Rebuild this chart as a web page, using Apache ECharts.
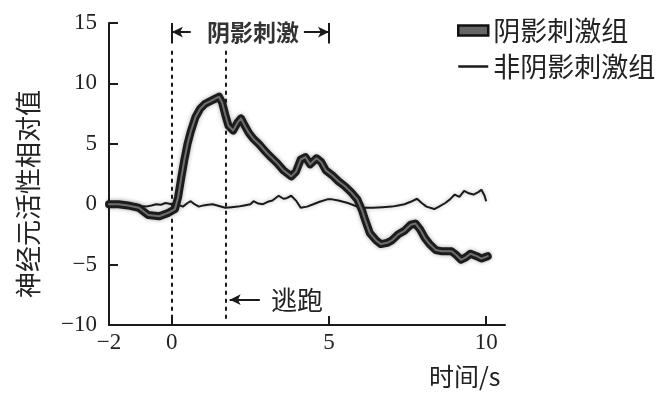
<!DOCTYPE html>
<html>
<head>
<meta charset="utf-8">
<script src="https://cdn.jsdelivr.net/npm/echarts@6/dist/echarts.min.js"></script>
<style>html,body{margin:0;padding:0;background:#fff}#c{width:671px;height:394px}</style>
</head>
<body>
<div id="c"></div>
<script>
// ---- data ----
const shadowName = '阴影刺激组';
const noShadowName = '非阴影刺激组';
const shadowTime = [-2, -1.7, -1.4, -1.05, -0.75, -0.4, -0.1, 0.1, 0.2, 0.3, 0.4, 0.5, 0.6, 0.75, 0.9, 1.05, 1.2, 1.35, 1.5, 1.6, 1.7, 1.8, 1.95, 2.1, 2.2, 2.3, 2.45, 2.6, 2.8, 3.0, 3.15, 3.35, 3.55, 3.8, 3.95, 4.1, 4.25, 4.4, 4.6, 4.75, 4.9, 5.1, 5.3, 5.5, 5.7, 5.9, 6.05, 6.15, 6.3, 6.5, 6.65, 6.85, 7.0, 7.2, 7.4, 7.6, 7.75, 7.9, 8.05, 8.2, 8.4, 8.6, 8.9, 9.05, 9.2, 9.35, 9.5, 9.7, 9.85, 10.05];
const shadowValue = [0, 0.0, -0.1, -0.3, -0.9, -1.0, -0.7, -0.4, 0.6, 2.2, 3.7, 5.0, 6.0, 7.2, 7.9, 8.3, 8.5, 8.7, 8.9, 8.4, 7.4, 6.5, 6.1, 6.8, 7.1, 6.6, 5.9, 5.4, 4.9, 4.3, 3.9, 3.4, 2.8, 2.3, 2.7, 3.7, 3.9, 3.3, 3.8, 3.5, 2.8, 2.4, 1.9, 1.5, 1.0, 0.4, -0.5, -1.3, -2.4, -3.0, -3.3, -3.2, -3.0, -2.5, -2.2, -1.7, -1.6, -2.1, -2.8, -3.3, -3.8, -3.9, -3.9, -4.2, -4.6, -4.4, -4.1, -4.3, -4.5, -4.3];
const noShadowTime = [-2, -1.8, -1.6, -1.45, -1.3, -1.15, -1.0, -0.83, -0.65, -0.5, -0.35, -0.2, 0.0, 0.13, 0.25, 0.35, 0.5, 0.6, 0.72, 0.86, 1.0, 1.15, 1.3, 1.5, 1.7, 1.9, 2.1, 2.3, 2.5, 2.6, 2.75, 2.9, 3.05, 3.2, 3.4, 3.55, 3.65, 3.8, 3.95, 4.1, 4.3, 4.5, 4.7, 4.95, 5.1, 5.3, 5.6, 5.9, 6.1, 6.4, 6.7, 7.0, 7.2, 7.4, 7.6, 7.8, 7.95, 8.1, 8.35, 8.5, 8.7, 8.85, 9.0, 9.15, 9.3, 9.45, 9.6, 9.75, 9.85, 9.95, 10.0];
const noShadowValue = [0.0, 0.0, 0.15, 0.1, -0.05, 0.0, -0.15, -0.2, -0.1, 0.0, -0.05, 0.1, 0.0, 0.0, -0.1, -0.2, 0.1, 0.25, 0.0, -0.2, -0.1, -0.05, 0.0, -0.15, -0.3, -0.25, -0.2, -0.1, 0.0, 0.25, 0.05, 0.0, 0.2, 0.3, 0.7, 0.45, 0.5, 0.7, 0.3, -0.3, -0.2, 0.0, 0.2, 0.4, 0.4, 0.3, 0.1, -0.2, -0.3, -0.3, -0.25, -0.2, -0.1, 0.0, 0.2, 0.45, 0.1, -0.2, -0.4, -0.2, 0.1, 0.4, 0.8, 0.6, 1.1, 0.9, 0.8, 1.0, 1.2, 0.7, 0.25];
const xTickValues = [-2, 0, 5, 10];
const stimulusStart = 0, stimulusEnd = 5, escapeTime = 1.72;
const stimulusLabel = '阴影刺激';
const escapeLabel = '逃跑';
const yAxisName = '神经元活性相对值';
const xAxisName = '时间/s';

const pair = (xs, ys) => xs.map((x, i) => [x, ys[i]]);
const ink = '#1a1a1a';
const numFont = 'Liberation Serif';
const cjkFont = 'Noto Sans CJK SC';
const minusFmt = v => v < 0 ? '\u2212' + Math.abs(v) : String(v);

const chart = echarts.init(document.getElementById('c'));
chart.setOption({
  animation: false,
  backgroundColor: '#fff',
  grid: {left: 109, right: 166, top: 23, bottom: 69},
  legend: {
    orient: 'vertical', left: 452, top: 12, itemWidth: 30, itemHeight: 10, itemGap: 9,
    textStyle: {fontFamily: cjkFont, fontSize: 27, color: '#222'},
    data: [
      {name: shadowName, icon: 'rect', itemStyle: {color: '#666', borderColor: '#111', borderWidth: 2.5}},
      {name: noShadowName, itemStyle: {opacity: 0}, lineStyle: {width: 2.5, color: ink}}
    ]
  },
  xAxis: {
    type: 'value', min: -2, max: 10.6,
    axisLine: {show: true, onZero: false, lineStyle: {color: ink, width: 2}},
    axisTick: {show: true, inside: true, length: 9, lineStyle: {width: 2, color: ink}, customValues: xTickValues},
    axisLabel: {customValues: xTickValues, fontFamily: numFont, fontSize: 23, color: '#222', margin: 6, formatter: minusFmt},
    splitLine: {show: false}
  },
  yAxis: {
    type: 'value', min: -10, max: 15, interval: 5,
    name: yAxisName, nameLocation: 'middle', nameGap: 68,
    nameTextStyle: {fontFamily: cjkFont, fontSize: 26, color: '#222', padding: [0, 40, 0, 0]},
    axisLine: {show: true, onZero: false, lineStyle: {color: ink, width: 2}},
    axisTick: {show: true, inside: true, length: 9, lineStyle: {width: 2, color: ink}},
    axisLabel: {fontFamily: numFont, fontSize: 23, color: '#222', margin: 12, formatter: minusFmt},
    splitLine: {show: false}
  },
  graphic: [{
    type: 'text', left: 429, top: 364,
    style: {text: xAxisName, font: '25px "Noto Sans CJK SC"', fill: '#222'}
  }],
  series: [
    {
      name: noShadowName, type: 'line', data: pair(noShadowTime, noShadowValue),
      showSymbol: false, symbol: 'none', z: 3,
      lineStyle: {color: ink, width: 2, shadowBlur: 4, shadowColor: 'rgba(0,0,0,0.3)'},
      itemStyle: {color: ink},
      markLine: {
        silent: true, symbol: 'none', animation: false,
        lineStyle: {color: ink, width: 2, type: 'solid', shadowBlur: 0},
        label: {show: false},
        data: [
          [{coord: [stimulusStart, 12.7], lineStyle: {type: [4, 4], width: 2, color: ink}}, {coord: [stimulusStart, -10]}],
          [{coord: [escapeTime, 12.7], lineStyle: {type: [4, 4], width: 2, color: ink}}, {coord: [escapeTime, -9.5]}],
          [{coord: [stimulusStart, 13.3]}, {coord: [stimulusStart, 15]}],
          [{coord: [stimulusEnd, 13.3]}, {coord: [stimulusEnd, 15]}],
          [{coord: [stimulusStart, 14.25], symbol: 'arrow', symbolSize: [8, 11]}, {coord: [0.6, 14.25], symbol: 'none'}],
          [{coord: [4.2, 14.25], symbol: 'none'}, {coord: [stimulusEnd, 14.25], symbol: 'arrow', symbolSize: [8, 11]}],
          [{coord: [2.8, -7.9], symbol: 'none'}, {coord: [escapeTime + 0.12, -7.9], symbol: 'arrow', symbolSize: [8, 11]}]
        ]
      },
      markPoint: {
        silent: true, symbol: 'rect', symbolSize: 0, itemStyle: {color: 'rgba(0,0,0,0)'},
        data: [
          {coord: [2.58, 14.2], label: {show: true, position: 'inside', formatter: stimulusLabel, fontFamily: cjkFont, fontSize: 23, fontWeight: 'bold', color: '#333'}},
          {coord: [3.98, -7.9], label: {show: true, position: 'inside', formatter: escapeLabel, fontFamily: cjkFont, fontSize: 26, color: '#222'}}
        ]
      }
    },
    {
      name: shadowName, type: 'line', data: pair(shadowTime, shadowValue),
      showSymbol: false, symbol: 'none', z: 4,
      lineStyle: {color: '#1c1c1c', width: 8, shadowBlur: 4, shadowColor: 'rgba(0,0,0,0.35)', join: 'round', cap: 'round'},
      itemStyle: {color: '#1c1c1c'}
    },
    {
      name: shadowName + '内', type: 'line', data: pair(shadowTime, shadowValue),
      showSymbol: false, symbol: 'none', z: 5, silent: true,
      lineStyle: {color: '#6e6e6e', width: 2, join: 'round', cap: 'round'},
      itemStyle: {color: '#6e6e6e'}
    }
  ]
});
</script>
</body>
</html>
